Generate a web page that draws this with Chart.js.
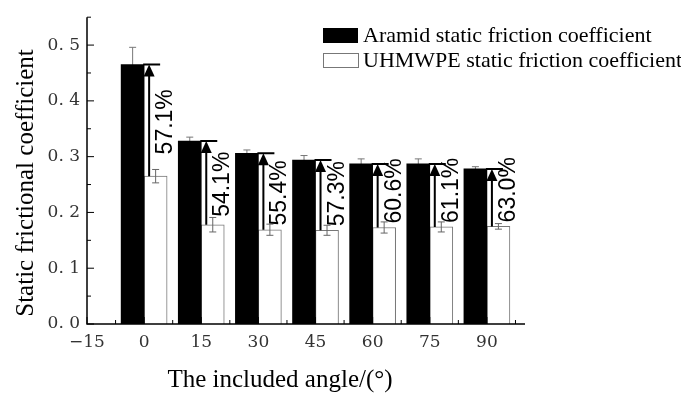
<!DOCTYPE html>
<html>
<head>
<meta charset="utf-8">
<script src="https://cdn.jsdelivr.net/npm/chart.js@4.4.1/dist/chart.umd.min.js"></script>
<style>
  html, body { margin: 0; padding: 0; background: #fff; }
  #wrap { width: 681px; height: 394px; }
</style>
</head>
<body>
<div id="wrap"><canvas id="chart" width="681" height="394"></canvas></div>
<script>
// included angle between yarns (degrees)
const angles = [0, 15, 30, 45, 60, 75, 90];
const aramidStatic = [0.465, 0.328, 0.306, 0.294, 0.287, 0.287, 0.278];
const aramidErr = [0.031, 0.007, 0.006, 0.008, 0.009, 0.009, 0.004];
const uhmwpeStatic = [0.265, 0.178, 0.169, 0.168, 0.173, 0.174, 0.175];
const uhmwpeErr = [0.012, 0.013, 0.010, 0.009, 0.010, 0.009, 0.005];
// UHMWPE as a share of aramid, as printed on the figure
const ratioLabels = ['57.1%', '54.1%', '55.4%', '57.3%', '60.6%', '61.1%', '63.0%'];
const seriesNames = ['Aramid static friction coefficient', 'UHMWPE static friction coefficient'];
const xTicks = [-15, 0, 15, 30, 45, 60, 75, 90];
const yTicks = [0, 0.1, 0.2, 0.3, 0.4, 0.5];

const serif = '"Liberation Serif", "Times New Roman", serif';

function errBar(ctx, x, y1, y2, half) {
    ctx.beginPath();
    ctx.moveTo(x, y1); ctx.lineTo(x, y2);
    ctx.moveTo(x - half, y2); ctx.lineTo(x + half, y2);
    ctx.stroke();
}

const extras = {
    id: 'extras',
    beforeDatasetsDraw(chart) {
        // aramid whiskers sit behind the black bars, only the top half shows
        const ctx = chart.ctx, y = chart.scales.y;
        const bars = chart.getDatasetMeta(0).data;
        ctx.save();
        ctx.strokeStyle = '#777';
        ctx.lineWidth = 1;
        bars.forEach((b, i) => {
            errBar(ctx, b.x, y.getPixelForValue(aramidStatic[i] - aramidErr[i]), y.getPixelForValue(aramidStatic[i] + aramidErr[i]), 3.5);
        });
        ctx.restore();
    },
    afterDatasetsDraw(chart) {
        const ctx = chart.ctx;
        const xs = chart.scales.x, ys = chart.scales.y;
        const { left, right, top, bottom } = chart.chartArea;
        ctx.save();

        // UHMWPE error bars
        ctx.strokeStyle = '#666';
        ctx.lineWidth = 1;
        chart.getDatasetMeta(1).data.forEach((b, i) => {
            const lo = ys.getPixelForValue(uhmwpeStatic[i] - uhmwpeErr[i]);
            const hi = ys.getPixelForValue(uhmwpeStatic[i] + uhmwpeErr[i]);
            errBar(ctx, b.x, lo, hi, 3.5);
            ctx.beginPath();
            ctx.moveTo(b.x - 3.5, lo); ctx.lineTo(b.x + 3.5, lo);
            ctx.stroke();
        });

        // axes with inward ticks
        ctx.strokeStyle = '#000';
        ctx.lineWidth = 1.5;
        ctx.beginPath();
        ctx.moveTo(left, top); ctx.lineTo(left, bottom); ctx.lineTo(right, bottom);
        ctx.stroke();
        ctx.lineWidth = 1;
        ctx.beginPath();
        yTicks.forEach(v => {
            const p = ys.getPixelForValue(v);
            ctx.moveTo(left, p); ctx.lineTo(left + 7, p);
            const m = ys.getPixelForValue(v + 0.05);
            ctx.moveTo(left, m); ctx.lineTo(left + 4, m);
        });
        xTicks.forEach(v => {
            const p = xs.getPixelForValue(v);
            ctx.moveTo(p, bottom); ctx.lineTo(p, bottom - 7);
            const m = xs.getPixelForValue(v + 7.5);
            ctx.moveTo(m, bottom); ctx.lineTo(m, bottom - 4);
        });
        ctx.stroke();

        // arrows from UHMWPE up to aramid, with ratio labels
        angles.forEach((a, i) => {
            const px = xs.getPixelForValue(a);
            const yA = ys.getPixelForValue(aramidStatic[i]);
            const yU = ys.getPixelForValue(uhmwpeStatic[i]);
            const ax = px + 5;
            ctx.strokeStyle = '#000';
            ctx.fillStyle = '#000';
            ctx.lineWidth = 2;
            ctx.beginPath();
            ctx.moveTo(px - 1, yA); ctx.lineTo(px + 16, yA);
            ctx.moveTo(ax, yA + 10); ctx.lineTo(ax, yU);
            ctx.stroke();
            ctx.beginPath();
            ctx.moveTo(ax, yA); ctx.lineTo(ax - 5.5, yA + 12); ctx.lineTo(ax + 5.5, yA + 12);
            ctx.closePath();
            ctx.fill();

            const base = Math.min(yU - 4, (yA + yU) / 2 + 34);
            ctx.save();
            ctx.translate(px + 28, base);
            ctx.rotate(-Math.PI / 2);
            ctx.font = '23px "Liberation Sans", Arial, sans-serif';
            ctx.textAlign = 'left';
            ctx.textBaseline = 'alphabetic';
            ctx.fillText(ratioLabels[i], 0, 0);
            ctx.restore();
        });

        // legend
        ctx.font = '22px ' + serif;
        ctx.textAlign = 'left';
        ctx.textBaseline = 'middle';
        ctx.fillStyle = '#000';
        ctx.fillRect(323, 28, 35, 15);
        ctx.fillText(seriesNames[0], 363, 36);
        ctx.fillStyle = '#fff';
        ctx.strokeStyle = '#777';
        ctx.lineWidth = 1;
        ctx.fillRect(323.5, 53.5, 35, 14);
        ctx.strokeRect(323.5, 53.5, 35, 14);
        ctx.fillStyle = '#000';
        ctx.fillText(seriesNames[1], 363, 61);

        // axis titles
        ctx.font = '25px ' + serif;
        ctx.textBaseline = 'alphabetic';
        ctx.textAlign = 'center';
        ctx.fillStyle = '#000';
        ctx.fillText('The included angle/(\u00b0)', 280, 387);
        ctx.translate(33, 183);
        ctx.rotate(-Math.PI / 2);
        ctx.fillText('Static frictional coefficient', 0, 0);
        ctx.restore();
    }
};

const tickFont = { family: '"DejaVu Serif", serif', size: 17 };

new Chart(document.getElementById('chart'), {
    type: 'bar',
    data: {
        datasets: [{
            label: seriesNames[0],
            data: angles.map((a, i) => ({ x: a, y: aramidStatic[i] })),
            backgroundColor: '#000',
            borderWidth: 0
        }, {
            label: seriesNames[1],
            data: angles.map((a, i) => ({ x: a, y: uhmwpeStatic[i] })),
            backgroundColor: '#fff',
            borderColor: '#777',
            borderWidth: 1
        }]
    },
    options: {
        responsive: false,
        animation: false,
        barThickness: 23,
        layout: { padding: { top: 10, right: 156, left: 0, bottom: 0 } },
        plugins: { legend: { display: false }, tooltip: { enabled: false } },
        scales: {
            x: {
                type: 'linear',
                min: -15,
                max: 100,
                offset: false,
                grid: { display: false, drawTicks: false },
                border: { display: false },
                afterBuildTicks: s => { s.ticks = xTicks.map(v => ({ value: v })); },
                afterFit: s => { s.height = 70; },
                ticks: {
                    padding: 8,
                    color: '#333',
                    font: tickFont,
                    maxRotation: 0,
                    autoSkip: false,
                    callback: v => v < 0 ? '\u2212' + Math.abs(v) : String(v)
                }
            },
            y: {
                min: 0,
                max: 0.55,
                grid: { display: false, drawTicks: false },
                border: { display: false },
                afterBuildTicks: s => { s.ticks = yTicks.map(v => ({ value: v })); },
                afterFit: s => { s.width = 87; },
                ticks: {
                    padding: 7,
                    color: '#333',
                    font: tickFont,
                    callback: v => v.toFixed(1).replace('.', '. ')
                }
            }
        }
    },
    plugins: [extras]
});
</script>
</body>
</html>
